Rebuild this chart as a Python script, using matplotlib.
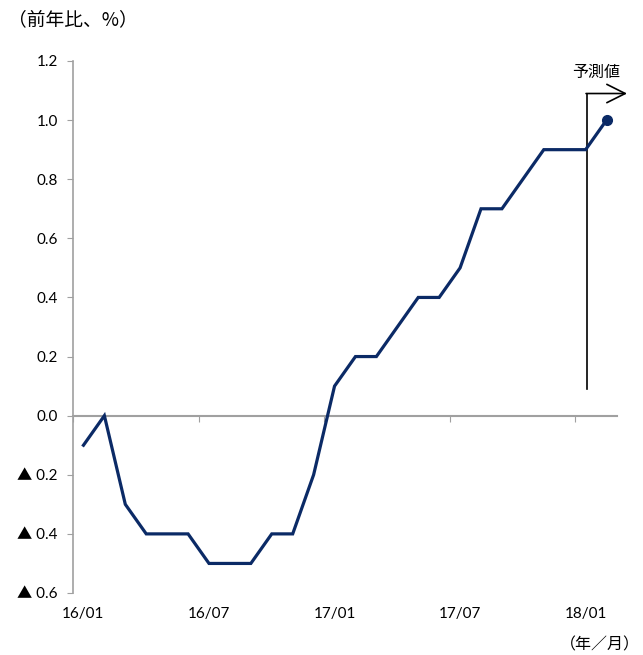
import matplotlib
matplotlib.use("Agg")
import matplotlib.pyplot as plt
import numpy as np

plt.rcParams['font.family'] = ['Lato', 'Noto Sans CJK JP', 'DejaVu Sans']

# monthly data, 2016/01 - 2018/02 (last point is the forecast)
months = ['16/01', '16/02', '16/03', '16/04', '16/05', '16/06', '16/07', '16/08', '16/09',
          '16/10', '16/11', '16/12', '17/01', '17/02', '17/03', '17/04', '17/05', '17/06',
          '17/07', '17/08', '17/09', '17/10', '17/11', '17/12', '18/01', '18/02']
values = [-0.1, 0.0, -0.3, -0.4, -0.4, -0.4, -0.5, -0.5, -0.5, -0.4, -0.4, -0.2,
          0.1, 0.2, 0.2, 0.3, 0.4, 0.4, 0.5, 0.7, 0.7, 0.8, 0.9, 0.9, 0.9, 1.0]
forecast_start = '18/01'

navy = '#0b2a66'
grey = '#a0a0a0'
jp = ['Noto Sans CJK JP', 'DejaVu Sans']

x = np.arange(len(months))
fig = plt.figure(figsize=(6.43, 6.55), dpi=100)
ax = fig.add_axes([73 / 643, 62 / 655, 544 / 643, 532 / 655])

ax.plot(x, values, color=navy, lw=2.3, solid_joinstyle='miter', zorder=3)
ax.plot(x[-1], values[-1], 'o', color=navy, ms=7, zorder=4)

ax.set_xlim(-0.5, len(months) - 0.5)
ax.set_ylim(-0.6, 1.2)

# y axis
yt = np.round(np.arange(-0.6, 1.21, 0.2), 1)
ax.set_yticks(yt)
ax.set_yticklabels([f'{v:.1f}' if v >= 0 else f'▲ {abs(v):.1f}' for v in yt], fontsize=11)
ax.tick_params(axis='y', direction='out', length=4, color=grey, pad=7)
for s in ['top', 'right', 'bottom']:
    ax.spines[s].set_visible(False)
ax.spines['left'].set_color(grey)
ax.spines['left'].set_linewidth(1.2)

# x labels at the bottom, axis line at zero
lab_idx = x[::6]
ax.set_xticks(lab_idx)
ax.set_xticklabels([months[i] for i in lab_idx], fontsize=11)
ax.tick_params(axis='x', length=0, pad=10)

zero_frac = (0 - (-0.6)) / (1.2 - (-0.6))
sec = ax.secondary_xaxis(zero_frac)
sec.set_xticks(np.arange(-0.5, len(months), 6))
sec.set_xticklabels([])
sec.tick_params(axis='x', direction='out', length=4, color=grey)
sec.spines['bottom'].set_color(grey)
sec.spines['bottom'].set_linewidth(1.5)

# forecast marker
fx = months.index(forecast_start) + 0.05
ax.plot([fx, fx], [0.09, 1.09], color='black', lw=1.2, clip_on=False)
ax.annotate('', xy=(len(months) - 0.02, 1.09), xytext=(fx - 0.03, 1.09),
            arrowprops=dict(arrowstyle='->,head_length=0.6,head_width=0.3', color='black',
                            lw=1.2, mutation_scale=22, shrinkA=0, shrinkB=0),
            annotation_clip=False)
ax.text(fx + 0.45, 1.16, '予測値', ha='center', va='center', fontsize=11.5, family=jp)

fig.text(8 / 643, 1 - 20 / 655, '（前年比、%）', ha='left', va='center', fontsize=13.5, family=jp)
fig.text(600 / 643, 1 - 645 / 655, '（年／月）', ha='center', va='center', fontsize=11.5, family=jp)

fig.savefig('out.png', dpi=100)
